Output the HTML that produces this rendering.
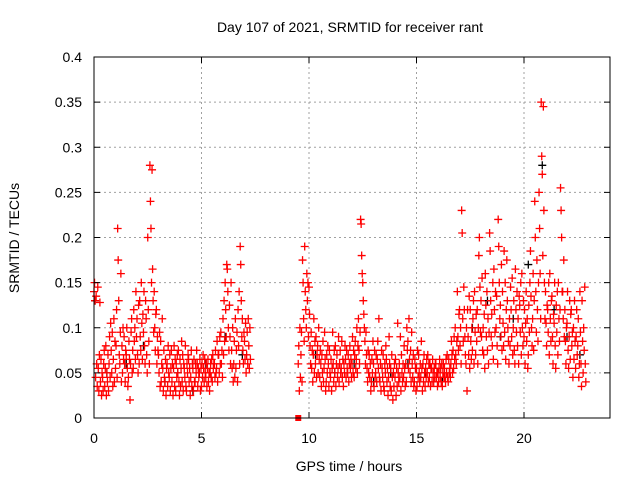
<!DOCTYPE html>
<html><head><meta charset="utf-8"><style>
body{margin:0;background:#fff;}
svg{font-family:"Liberation Sans",sans-serif;}
</style></head><body>
<svg id="chart" width="640" height="480" viewBox="0 0 640 480">
<rect width="640" height="480" fill="#fff"/>
<g id="grid"></g>
<g id="marks"></g>
<rect x="94" y="57" width="516" height="361" fill="none" stroke="#000" stroke-width="1"/>
<g id="ticks"></g>
<text x="350" y="32" text-anchor="middle" font-size="14">Day 107 of 2021, SRMTID for receiver rant</text>
<text x="349" y="471" text-anchor="middle" font-size="14">GPS time / hours</text>
<text transform="translate(19,238) rotate(-90)" text-anchor="middle" font-size="14">SRMTID / TECUs</text>
</svg>
<script>
const xTicks=[0,5,10,15,20];
const yTicks=[0,0.05,0.1,0.15,0.2,0.25,0.3,0.35,0.4];
const yTickLabels=["0","0.05","0.1","0.15","0.2","0.25","0.3","0.35","0.4"];
// buckets: [hour, values in 0.001 TECU...]
const redBuckets=[[0.0,140,150,130,45],[0.1,135,60,35,145],[0.2,55,30,70,128],[0.3,40,65,25,50],[0.4,45,30,60,75],[0.5,35,55,80,25],[0.6,50,40,70,30],[0.7,60,90,45,105],[0.8,75,50,95,35],[0.9,65,110,40,85],[1.0,55,80,120,45],[1.1,210,175,130,70],[1.2,60,95,160,40],[1.3,80,50,100,65],[1.4,90,60,40,75],[1.5,70,100,55,35],[1.6,45,85,65,20],[1.7,60,95,110,50],[1.8,75,55,120,85],[1.9,100,65,140,90],[2.0,110,70,50,125],[2.1,60,130,90,75],[2.2,150,105,65,115],[2.3,95,140,80,60],[2.4,130,110,70,50],[2.5,200,120,85,60],[2.6,280,240,210,150],[2.7,275,165,130,95],[2.8,140,100,75,115],[2.9,120,60,90,75],[3.0,70,50,95,35],[3.1,85,40,60,110],[3.2,55,30,75,45],[3.3,40,65,25,55],[3.4,60,35,80,50],[3.5,45,70,30,55],[3.6,75,40,60,25],[3.7,55,80,35,65],[3.8,30,60,45,70],[3.9,50,75,40,25],[4.0,65,35,55,85],[4.1,40,70,30,60],[4.2,55,45,80,35],[4.3,30,60,50,70],[4.4,65,40,55,25],[4.5,45,75,35,60],[4.6,55,30,65,40],[4.7,40,60,50,75],[4.8,60,35,55,45],[4.9,50,65,30,55],[5.0,35,60,45,70],[5.1,55,40,65,50],[5.2,45,60,35,55],[5.3,65,40,50,30],[5.4,50,60,45,65],[5.5,40,70,55,60],[5.6,60,45,75,50],[5.7,55,85,40,70],[5.8,70,50,90,60],[5.9,95,60,75,45],[6.0,110,70,130,85],[6.1,150,120,90,170],[6.2,165,140,100,75],[6.3,125,90,60,150],[6.4,75,55,100,40],[6.5,60,85,45,110],[6.6,55,75,95,40],[6.7,120,80,140,60],[6.8,190,170,130,90],[6.9,110,75,60,95],[7.0,85,65,105,50],[7.1,70,95,60,110],[7.2,80,55,100,65],
[9.5,60,80,30,100],[9.6,45,70,95,40],[9.7,175,150,110,85],[9.8,190,140,120,100],[9.9,160,130,150,90],[10.0,145,115,80,60],[10.1,95,55,75,40],[10.2,70,110,50,85],[10.3,60,90,45,70],[10.4,80,50,100,65],[10.5,45,75,60,35],[10.6,70,50,85,40],[10.7,55,95,65,30],[10.8,40,70,50,80],[10.9,60,35,75,50],[11.0,45,65,30,55],[11.1,95,60,40,75],[11.2,50,80,35,60],[11.3,70,45,55,90],[11.4,40,60,75,50],[11.5,55,85,45,65],[11.6,35,60,50,80],[11.7,65,45,75,55],[11.8,50,70,40,60],[11.9,80,55,65,45],[12.0,60,90,50,75],[12.1,45,70,85,55],[12.2,65,100,50,80],[12.3,110,75,60,95],[12.4,220,215,180,160],[12.5,150,130,115,100],[12.6,85,60,95,70],[12.7,55,40,75,50],[12.8,70,45,60,30],[12.9,40,65,50,85],[13.0,60,35,75,45],[13.1,50,70,40,65],[13.2,85,55,110,45],[13.3,40,60,30,75],[13.4,55,45,70,35],[13.5,30,60,50,80],[13.6,65,40,55,25],[13.7,45,90,60,35],[13.8,55,30,70,45],[13.9,20,50,35,60],[14.0,45,65,25,55],[14.1,35,105,50,40],[14.2,60,45,90,30],[14.3,70,50,40,60],[14.4,45,80,55,35],[14.5,60,40,100,75],[14.6,85,55,110,65],[14.7,50,75,40,95],[14.8,60,45,70,35],[14.9,40,65,55,30],[15.0,55,35,75,45],[15.1,70,50,40,60],[15.2,45,85,55,30],[15.3,60,40,70,50],[15.4,35,55,45,65],[15.5,50,70,40,60],[15.6,45,60,35,55],[15.7,55,40,65,50],[15.8,40,55,45,60],[15.9,60,45,50,35],[16.0,50,40,55,65],[16.1,45,55,40,60],[16.2,35,50,60,45],[16.3,55,45,40,65],[16.4,50,70,45,40],[16.5,65,50,55,45],[16.6,60,85,70,50],[16.7,75,55,90,65],[16.8,100,70,60,85],[16.9,140,90,75,115],[17.0,120,80,100,60],[17.1,230,205,110,85],[17.2,145,120,90,70],[17.3,60,100,30,120],[17.4,90,70,135,55],[17.5,120,85,65,100],[17.6,75,110,130,60],[17.7,140,95,70,115],[17.8,85,120,60,100],[17.9,180,200,145,95],[18.0,130,90,155,75],[18.1,100,70,115,55],[18.2,160,125,90,140],[18.3,75,110,60,95],[18.4,205,185,130,90],[18.5,115,80,150,65],[18.6,165,120,95,140],[18.7,100,135,80,60],[18.8,220,190,150,110],[18.9,125,90,170,75],[19.0,140,105,80,185],[19.1,95,150,65,120],[19.2,175,130,100,85],[19.3,60,110,80,145],[19.4,120,90,155,70],[19.5,100,130,75,60],[19.6,165,120,95,140],[19.7,80,110,60,135],[19.8,125,95,150,70],[19.9,160,100,80,130],[20.0,90,120,60,105],[20.1,140,85,110,55],[20.2,70,125,95,150],[20.3,185,135,100,80],[20.4,110,160,75,130],[20.5,240,200,140,95],[20.6,175,120,85,150],[20.7,250,210,160,110],[20.8,350,290,270,180],[20.9,345,230,150,110],[21.0,140,105,80,125],[21.1,120,95,150,70],[21.2,160,110,85,130],[21.3,135,90,60,115],[21.4,105,150,80,55],[21.5,125,95,140,70],[21.6,150,110,85,120],[21.7,255,230,200,140],[21.8,140,110,175,90],[21.9,120,85,60,100],[22.0,105,140,75,55],[22.1,90,130,65,115],[22.2,120,80,95,45],[22.3,100,65,130,85],[22.4,55,90,120,70],[22.5,80,110,45,60],[22.6,140,95,60,35],[22.7,130,85,50,100],[22.8,75,145,60,40]];
const blackHours=[0.05,0.6,1.5,2.3,3.3,3.9,4.6,5.2,6.1,6.9,10.3,11.2,12.1,13.0,13.8,14.6,15.4,16.2,17.6,18.3,18.9,19.5,20.2,20.85,21.4,22.0,22.6];
const blackValues=[0.13,0.05,0.06,0.08,0.04,0.05,0.03,0.06,0.09,0.07,0.07,0.05,0.06,0.04,0.05,0.06,0.05,0.04,0.1,0.13,0.09,0.11,0.17,0.28,0.12,0.09,0.07];
const squareHours=[9.5];
const squareValues=[0];

const X0=94,X1=610,Y0=418,Y1=57,XMAX=24,YMAX=0.4;
const xs=h=>X0+h/XMAX*(X1-X0);
const ys=v=>Y0-v/YMAX*(Y0-Y1);
const NS="http://www.w3.org/2000/svg";
function mk(t,a,p){const e=document.createElementNS(NS,t);for(const k in a)e.setAttribute(k,a[k]);p.appendChild(e);return e;}
const grid=document.getElementById('grid'),ticks=document.getElementById('ticks'),marks=document.getElementById('marks');
xTicks.forEach((t,i)=>{const x=xs(t);
 if(t>0){const g=mk('line',{x1:x,x2:x,y1:Y1,y2:Y0,stroke:'#a0a0a0','stroke-dasharray':'2,3'},grid);
 
 }
 mk('line',{x1:x,x2:x,y1:Y0,y2:Y0-6,stroke:'#000'},ticks);
 mk('line',{x1:x,x2:x,y1:Y1,y2:Y1+6,stroke:'#000'},ticks);
 const l=mk('text',{x:x,y:Y0+25,'text-anchor':'middle','font-size':14},ticks);l.textContent=t;
 
 });
yTicks.forEach((t,i)=>{const y=ys(t);
 if(t>0&&t<YMAX){const g=mk('line',{x1:X0,x2:X1,y1:y,y2:y,stroke:'#a0a0a0','stroke-dasharray':'2,3'},grid);
 
 }
 mk('line',{x1:X0,x2:X0+6,y1:y,y2:y,stroke:'#000'},ticks);
 mk('line',{x1:X1,x2:X1-6,y1:y,y2:y,stroke:'#000'},ticks);
 const l=mk('text',{x:X0-12,y:y+5,'text-anchor':'end','font-size':14},ticks);l.textContent=yTickLabels[i];
 
 });
function plus(x,y,c){const p=mk('path',{d:`M${x-4},${y}h8M${x},${y-4}v8`,stroke:c,'stroke-width':1.3,fill:'none'},marks);
 
 }
blackHours.forEach((h,i)=>plus(xs(h),ys(blackValues[i]),'#000'));
redBuckets.forEach(b=>{for(let j=1;j<b.length;j++){plus(xs(b[0]+(j-1)*0.025),ys(b[j]/1000),'#f00');}});
squareHours.forEach((h,i)=>{const r=mk('rect',{x:xs(h)-3,y:ys(squareValues[i])-3,width:6,height:6,fill:'#f00'},marks);
 
 });
</script>
</body></html>
